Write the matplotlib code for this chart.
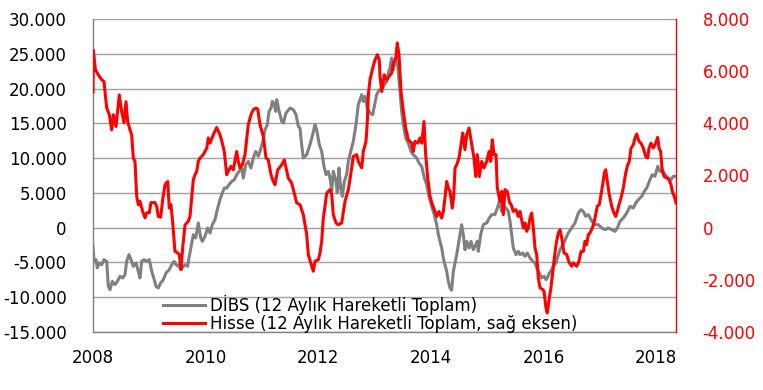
import numpy as np
import matplotlib as mpl
mpl.use('Agg')
import matplotlib.pyplot as plt
from matplotlib.ticker import FuncFormatter, FixedLocator

plt.rcParams['font.family'] = ['DejaVu Sans']

# DIBS, 12 aylik hareketli toplam (sol eksen) - (yil, deger)
dibs = [
    (2008.000, -2690), (2008.018, -4840), (2008.053, -4600), (2008.076, -5790), (2008.112, -5070),
    (2008.155, -5320), (2008.195, -4600), (2008.243, -4840), (2008.272, -8430), (2008.302, -8910),
    (2008.343, -7720), (2008.391, -8190), (2008.432, -7720), (2008.480, -7000), (2008.528, -7230),
    (2008.568, -6750), (2008.598, -4840), (2008.639, -3880), (2008.675, -4600), (2008.716, -5560),
    (2008.764, -5070), (2008.805, -6280), (2008.835, -7230), (2008.865, -4840), (2008.906, -4600),
    (2008.954, -4840), (2009.000, -4600), (2009.043, -6280), (2009.071, -7000), (2009.119, -8430),
    (2009.160, -8670), (2009.202, -7950), (2009.249, -7470), (2009.297, -6510), (2009.355, -6040),
    (2009.398, -5320), (2009.439, -4840), (2009.474, -5320), (2009.515, -5560), (2009.558, -5070),
    (2009.581, -5790), (2009.634, -5320), (2009.681, -5560), (2009.705, -4360), (2009.740, -2800),
    (2009.782, -1010), (2009.824, -1480), (2009.870, 680), (2009.913, -1480), (2009.942, -1970),
    (2009.989, -1250), (2010.037, -40), (2010.078, -760), (2010.119, 430), (2010.167, 1150),
    (2010.215, 2830), (2010.256, 4020), (2010.297, 4990), (2010.332, 5700), (2010.375, 5700),
    (2010.416, 6180), (2010.464, 6650), (2010.510, 6900), (2010.552, 7620), (2010.593, 8090),
    (2010.641, 8580), (2010.670, 7140), (2010.713, 9050), (2010.758, 9530), (2010.806, 8580),
    (2010.847, 10020), (2010.890, 10960), (2010.937, 10250), (2010.984, 11450), (2011.025, 12650),
    (2011.055, 14080), (2011.096, 14800), (2011.126, 16710), (2011.162, 17200), (2011.185, 18150),
    (2011.220, 17680), (2011.245, 16710), (2011.262, 18400), (2011.299, 17000), (2011.352, 15280),
    (2011.381, 15040), (2011.428, 16480), (2011.499, 17200), (2011.558, 16960), (2011.606, 16240),
    (2011.647, 14560), (2011.677, 14330), (2011.706, 11930), (2011.735, 10020), (2011.796, 10490),
    (2011.853, 11930), (2011.901, 13360), (2011.943, 14800), (2011.972, 14080), (2012.020, 11930),
    (2012.062, 10960), (2012.103, 8810), (2012.139, 7620), (2012.180, 8090), (2012.210, 7140),
    (2012.240, 5220), (2012.268, 8090), (2012.316, 6650), (2012.339, 4990), (2012.369, 8580),
    (2012.399, 5700), (2012.428, 4500), (2012.464, 6650), (2012.505, 7620), (2012.535, 9530),
    (2012.577, 10960), (2012.623, 12400), (2012.671, 14800), (2012.712, 17680), (2012.742, 18390),
    (2012.773, 19110), (2012.801, 18150), (2012.831, 18870), (2012.872, 17200), (2012.920, 16480),
    (2012.968, 16240), (2013.009, 17920), (2013.038, 19110), (2013.085, 19830), (2013.128, 19830),
    (2013.174, 20550), (2013.217, 21020), (2013.246, 22230), (2013.275, 22950), (2013.306, 24390),
    (2013.334, 22700), (2013.364, 23900), (2013.394, 24600), (2013.423, 22460), (2013.453, 19590),
    (2013.483, 16710), (2013.512, 14800), (2013.554, 12890), (2013.600, 12170), (2013.648, 10960),
    (2013.689, 10490), (2013.749, 10020), (2013.790, 9300), (2013.838, 8810), (2013.885, 7140),
    (2013.927, 6180), (2013.968, 4500), (2014.016, 3060), (2014.062, 1870), (2014.105, 430),
    (2014.134, -1010), (2014.163, -1970), (2014.193, -2920), (2014.222, -4360), (2014.252, -5320),
    (2014.282, -6280), (2014.311, -7720), (2014.341, -8670), (2014.370, -9000), (2014.400, -6280),
    (2014.430, -5070), (2014.460, -3880), (2014.489, -2440), (2014.518, -1010), (2014.548, 430),
    (2014.577, -1010), (2014.607, -3160), (2014.638, -1970), (2014.679, -2920), (2014.714, -1970),
    (2014.755, -3160), (2014.785, -2690), (2014.826, -1970), (2014.843, -3400), (2014.886, -1010),
    (2014.932, 430), (2014.993, 680), (2015.039, 1390), (2015.082, 1870), (2015.140, 1870),
    (2015.181, 2830), (2015.217, 3780), (2015.259, 2340), (2015.288, 3060), (2015.336, 2830),
    (2015.377, 2340), (2015.407, 910), (2015.437, -1010), (2015.465, -2920), (2015.513, -3880),
    (2015.554, -3400), (2015.584, -3880), (2015.632, -3640), (2015.673, -4120), (2015.714, -3640),
    (2015.762, -4360), (2015.810, -4840), (2015.851, -5070), (2015.881, -5790), (2015.927, -6510),
    (2015.970, -7230), (2016.011, -7000), (2016.046, -7470), (2016.069, -7230), (2016.105, -6510),
    (2016.130, -6280), (2016.176, -5560), (2016.224, -5070), (2016.265, -3880), (2016.307, -2920),
    (2016.353, -2440), (2016.401, -1480), (2016.442, -760), (2016.503, -40), (2016.561, 680),
    (2016.620, 2110), (2016.668, 2590), (2016.709, 2340), (2016.751, 1630), (2016.798, 1870),
    (2016.845, 1150), (2016.904, 430), (2016.975, 430), (2017.036, -40), (2017.094, -290),
    (2017.153, -40), (2017.213, -290), (2017.272, -530), (2017.313, -40), (2017.361, 910),
    (2017.419, 1390), (2017.480, 2110), (2017.538, 3060), (2017.597, 2830), (2017.639, 3540),
    (2017.686, 4020), (2017.746, 4500), (2017.792, 5220), (2017.835, 5700), (2017.893, 6900),
    (2017.934, 7620), (2017.982, 7380), (2018.030, 8810), (2018.071, 8090), (2018.112, 8330),
    (2018.160, 7620), (2018.218, 7140), (2018.266, 6900), (2018.307, 7380), (2018.355, 7380),
]

# Hisse, 12 aylik hareketli toplam (sag eksen) - (yil, deger)
hisse = [
    (2008.000, 5200), (2008.005, 6800), (2008.044, 6050), (2008.094, 5860), (2008.155, 5670),
    (2008.195, 5600), (2008.243, 4600), (2008.290, 4330), (2008.332, 3750), (2008.361, 4330),
    (2008.409, 3880), (2008.467, 5090), (2008.510, 4450), (2008.551, 4020), (2008.586, 4830),
    (2008.616, 4070), (2008.657, 3750), (2008.687, 3560), (2008.716, 2670), (2008.746, 2540),
    (2008.776, 1200), (2008.805, 880), (2008.835, 1010), (2008.883, 620), (2008.924, 380),
    (2008.954, 570), (2009.000, 570), (2009.030, 960), (2009.101, 960), (2009.131, 820),
    (2009.160, 430), (2009.202, 400), (2009.238, 1070), (2009.279, 1650), (2009.327, 1770),
    (2009.355, 750), (2009.385, 880), (2009.416, 180), (2009.456, -910), (2009.497, -960),
    (2009.533, -1030), (2009.563, -1610), (2009.593, -770), (2009.634, 100), (2009.693, 250),
    (2009.723, 430), (2009.753, 1140), (2009.782, 1840), (2009.812, 2030), (2009.842, 2160),
    (2009.870, 2540), (2009.901, 2670), (2009.959, 2800), (2010.020, 3050), (2010.048, 3440),
    (2010.078, 3240), (2010.137, 3560), (2010.197, 3840), (2010.256, 3560), (2010.297, 3240),
    (2010.332, 2920), (2010.375, 2030), (2010.403, 2160), (2010.451, 2350), (2010.492, 2220),
    (2010.552, 2920), (2010.581, 2540), (2010.611, 2290), (2010.652, 2410), (2010.700, 2800),
    (2010.758, 3950), (2010.806, 4330), (2010.847, 4520), (2010.890, 4580), (2010.925, 4550),
    (2010.966, 3950), (2011.025, 3500), (2011.073, 2670), (2011.114, 2600), (2011.162, 2030),
    (2011.202, 1770), (2011.233, 1650), (2011.281, 2220), (2011.352, 2410), (2011.398, 2600),
    (2011.469, 1900), (2011.529, 1710), (2011.588, 1200), (2011.618, 950), (2011.677, 880),
    (2011.735, 500), (2011.796, -270), (2011.824, -1030), (2011.867, -1350), (2011.913, -1670),
    (2011.943, -1290), (2012.002, -1230), (2012.032, -970), (2012.062, -520), (2012.091, 370),
    (2012.121, 820), (2012.151, 1330), (2012.210, 1460), (2012.240, 1260), (2012.268, 500),
    (2012.316, 180), (2012.357, 110), (2012.417, 180), (2012.476, 1010), (2012.535, 1460),
    (2012.577, 2030), (2012.623, 2730), (2012.684, 2800), (2012.712, 2540), (2012.773, 2290),
    (2012.801, 2920), (2012.849, 3310), (2012.872, 4070), (2012.890, 5090), (2012.920, 5670),
    (2012.968, 6120), (2013.009, 6430), (2013.050, 6630), (2013.085, 6430), (2013.098, 5800),
    (2013.128, 5220), (2013.174, 5860), (2013.217, 5670), (2013.258, 5800), (2013.306, 5930),
    (2013.334, 6310), (2013.377, 6500), (2013.405, 7080), (2013.435, 6630), (2013.471, 5220),
    (2013.512, 4460), (2013.554, 3820), (2013.600, 3370), (2013.661, 3240), (2013.689, 2920),
    (2013.719, 3310), (2013.767, 3240), (2013.808, 3440), (2013.838, 3240), (2013.879, 4070),
    (2013.909, 2800), (2013.945, 1900), (2013.986, 1200), (2014.027, 880), (2014.075, 620),
    (2014.105, 430), (2014.146, 620), (2014.193, 370), (2014.222, 620), (2014.252, 1140),
    (2014.282, 1770), (2014.311, 1520), (2014.341, 1390), (2014.382, 750), (2014.407, 1200),
    (2014.430, 2290), (2014.460, 2410), (2014.501, 2670), (2014.536, 3180), (2014.567, 3630),
    (2014.607, 2990), (2014.638, 3560), (2014.679, 3820), (2014.726, 3200), (2014.767, 2670),
    (2014.797, 1960), (2014.826, 2800), (2014.861, 1960), (2014.904, 2540), (2014.945, 2290),
    (2014.993, 2540), (2015.034, 2920), (2015.064, 2540), (2015.092, 3370), (2015.123, 2800),
    (2015.158, 2800), (2015.181, 1520), (2015.229, 1010), (2015.259, 1390), (2015.288, 500),
    (2015.318, 1460), (2015.359, 1390), (2015.394, 1010), (2015.437, 820), (2015.465, 620),
    (2015.513, 690), (2015.554, 430), (2015.584, 620), (2015.614, 300), (2015.643, -10),
    (2015.673, 180), (2015.703, -140), (2015.732, -10), (2015.762, 370), (2015.792, 560),
    (2015.821, -10), (2015.851, -780), (2015.881, -1030), (2015.909, -1930), (2015.940, -2310),
    (2015.988, -2370), (2016.011, -2440), (2016.046, -3080), (2016.069, -3270), (2016.105, -2690),
    (2016.130, -2370), (2016.153, -1930), (2016.188, -1290), (2016.224, -650), (2016.265, -200),
    (2016.295, -80), (2016.325, -390), (2016.366, -970), (2016.414, -1030), (2016.460, -1350),
    (2016.503, -1480), (2016.531, -1350), (2016.591, -1480), (2016.632, -1290), (2016.668, -910),
    (2016.709, -910), (2016.739, -520), (2016.769, -650), (2016.798, -270), (2016.828, -200),
    (2016.869, -10), (2016.904, 240), (2016.929, 500), (2016.957, 820), (2016.993, 880),
    (2017.023, 1260), (2017.053, 1650), (2017.082, 2100), (2017.107, 2220), (2017.135, 1770),
    (2017.171, 1260), (2017.213, 820), (2017.242, 620), (2017.284, 430), (2017.313, 620),
    (2017.343, 880), (2017.378, 1140), (2017.419, 1520), (2017.462, 2100), (2017.497, 2410),
    (2017.526, 2540), (2017.556, 3050), (2017.597, 3180), (2017.627, 3440), (2017.657, 3590),
    (2017.698, 3310), (2017.734, 3240), (2017.774, 3050), (2017.817, 2730), (2017.852, 2670),
    (2017.876, 3050), (2017.911, 3240), (2017.952, 3050), (2017.994, 3240), (2018.030, 3460),
    (2018.053, 3050), (2018.083, 2920), (2018.112, 2160), (2018.147, 1960), (2018.190, 1900),
    (2018.231, 1840), (2018.266, 1650), (2018.290, 1390), (2018.325, 1200), (2018.355, 950),
]

yillar = [2008, 2010, 2012, 2014, 2016, 2018]
sol_ticks = [-15000, -10000, -5000, 0, 5000, 10000, 15000, 20000, 25000, 30000]
sag_ticks = [-4000, -2000, 0, 2000, 4000, 6000, 8000]

dibs_t, dibs_v = np.array(dibs).T
hisse_t, hisse_v = np.array(hisse).T

GRI = '#808080'
KIRMIZI = '#FF0000'


def nokta(v, pos):
    return f"{int(v):,}".replace(',', '.')


fig = plt.figure(figsize=(7.63, 3.90), dpi=100)
ax = fig.add_axes([93 / 763, 1 - 332 / 390, (676 - 93) / 763, (332 - 19) / 390])
ax2 = ax.twinx()

l1, = ax.plot(dibs_t, dibs_v, color=GRI, lw=2.2, solid_joinstyle='round')
l2, = ax2.plot(hisse_t, hisse_v, color=KIRMIZI, lw=2.2, solid_joinstyle='round')

ax.set_xlim(2008.0, 2018.355)
ax.set_ylim(-15000, 30000)
ax2.set_ylim(-4000, 8000)

ax.yaxis.set_major_locator(FixedLocator(sol_ticks))
ax2.yaxis.set_major_locator(FixedLocator(sag_ticks))
ax.yaxis.set_major_formatter(FuncFormatter(nokta))
ax2.yaxis.set_major_formatter(FuncFormatter(nokta))
ax.set_xticks(yillar)
ax.set_xticklabels([str(y) for y in yillar])

ax.grid(axis='y', color='#A0A0A0', lw=1.0)
ax.set_axisbelow(True)

for a in (ax, ax2):
    a.spines['top'].set_visible(False)
ax.spines['left'].set_color(GRI)
ax.spines['bottom'].set_color(GRI)
ax.spines['right'].set_visible(False)
ax2.spines['left'].set_visible(False)
ax2.spines['bottom'].set_visible(False)
ax2.spines['right'].set_color(KIRMIZI)
for s in ('left', 'bottom'):
    ax.spines[s].set_linewidth(1.0)
ax2.spines['right'].set_linewidth(1.0)

ax.tick_params(axis='y', length=0, pad=19, labelsize=12, labelcolor='black')
ax.tick_params(axis='x', length=0, pad=12, labelsize=12, labelcolor='black')
ax2.tick_params(axis='y', length=0, pad=19, labelsize=12, labelcolor=KIRMIZI)

ax2.legend([l1, l2],
           ['DİBS (12 Aylık Hareketli Toplam)',
            'Hisse (12 Aylık Hareketli Toplam, sağ eksen)'],
           loc='lower left', bbox_to_anchor=(163 / 763, 1 - 333 / 390),
           bbox_transform=fig.transFigure, frameon=False, fontsize=12,
           handlelength=2.5, handletextpad=0.35, labelspacing=0.0,
           borderpad=0, borderaxespad=0)

fig.savefig('out.png', dpi=100)
plt.close(fig)
